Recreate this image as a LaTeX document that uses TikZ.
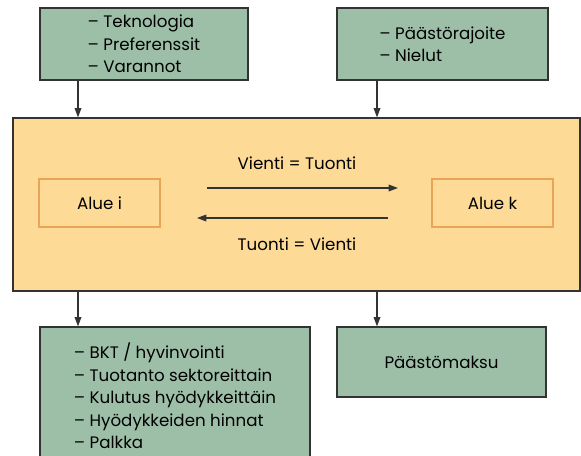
\documentclass[tikz,border=0pt]{standalone}
\usepackage{fontspec}
\setmainfont{Poppins}
\usetikzlibrary{arrows.meta}
\definecolor{boxgreen}{HTML}{9DBFA8}
\definecolor{boxorange}{HTML}{FDDB97}
\definecolor{inneredge}{HTML}{E8A555}
\definecolor{edgegray}{HTML}{333333}
\tikzset{
  greenbox/.style={draw=edgegray, fill=boxgreen, line width=0.9pt, inner sep=0pt, align=left,
    font=\fontsize{12.5}{16.9}\selectfont},
  mainbox/.style={draw=edgegray, fill=boxorange, line width=0.9pt, inner sep=0pt},
  regionbox/.style={draw=inneredge, line width=0.9pt, inner sep=0pt, font=\fontsize{12.5}{14}\selectfont},
  lbl/.style={inner sep=0pt, font=\fontsize{12.5}{14}\selectfont},
  conn/.style={draw=edgegray, line width=0.9pt, -{Triangle[length=7pt,width=5pt]}}
}
\begin{document}
\begin{tikzpicture}[x=0.75pt,y=-0.75pt]
\useasboundingbox (0,0) rectangle (581,455);
% main box
\node[mainbox, minimum width=567*0.75pt, minimum height=173*0.75pt] (main) at (296.5,204.5) {};
% top boxes
\node[greenbox, minimum width=208*0.75pt, minimum height=72*0.75pt] (tl) at (144,44) {– Teknologia\\– Preferenssit\\– Varannot};
\node[greenbox, minimum width=211*0.75pt, minimum height=72*0.75pt] (tr) at (442.5,44) {– Päästörajoite\\– Nielut};
% bottom boxes
\node[greenbox, minimum width=270*0.75pt, minimum height=138*0.75pt] (bl) at (175,396) {– BKT / hyvinvointi\\– Tuotanto sektoreittain\\– Kulutus hyödykkeittäin\\– Hyödykkeiden hinnat\\– Palkka};
\node[greenbox, minimum width=209*0.75pt, minimum height=70*0.75pt] (br) at (441.5,362) {Päästömaksu};
% region boxes
\node[regionbox, minimum width=121*0.75pt, minimum height=48*0.75pt] (ai) at (99.5,203) {Alue i};
\node[regionbox, minimum width=121*0.75pt, minimum height=48*0.75pt] (ak) at (492.5,203) {Alue k};
% labels
\node[lbl] (l1) at (297,163) {Vienti = Tuonti};
\node[lbl] (l2) at (297,244) {Tuonti = Vienti};
% internal arrows
\coordinate (r1) at (207,188);
\coordinate (r2) at (398,188);
\coordinate (s1) at (388,218);
\coordinate (s2) at (197,218);
\draw[conn] (r1) -- (r2);
\draw[conn] (s1) -- (s2);
% vertical connectors
\draw[conn] (tl.south -| 78,0) -- (main.north -| 78,0);
\draw[conn] (tr.south -| 377,0) -- (main.north -| 377,0);
\draw[conn] (main.south -| 78,0) -- (bl.north -| 78,0);
\draw[conn] (main.south -| 377,0) -- (br.north -| 377,0);
\end{tikzpicture}
\end{document}
